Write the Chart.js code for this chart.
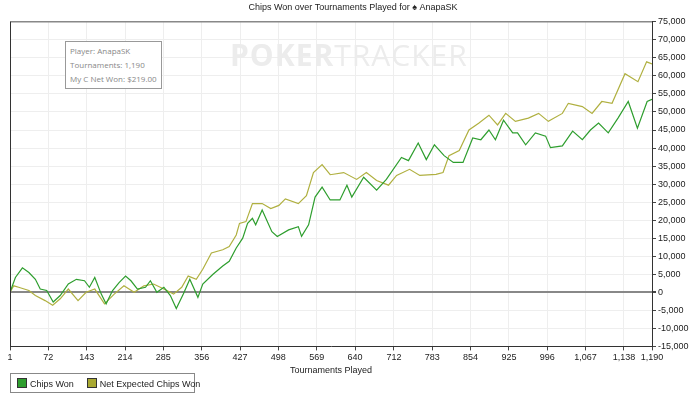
<!DOCTYPE html>
<html><head><meta charset="utf-8">
<script src="https://cdn.jsdelivr.net/npm/chart.js@4"></script>
<style>
  body{margin:0;width:700px;height:401px;background:#fff;font-family:"Liberation Sans",Arial,sans-serif;position:relative;overflow:hidden}
  #wrap{position:absolute;left:0;top:0;width:700px;height:376px}
  #info{position:absolute;left:65px;top:41px;width:97px;height:48px;border:1px solid #999;background:#fff;font:8px "Open Sans",sans-serif;color:#888;padding:2px 0 0 4px;line-height:14px;box-sizing:border-box;white-space:nowrap}
  #wm{position:absolute;left:230px;top:34px;font:bold 30px "Open Sans",sans-serif;color:#ececec;letter-spacing:1px}
  #wm span{font-weight:normal}
  #legend{position:absolute;left:10px;top:373px;width:185px;height:20px;border:1px solid #888;font-size:9px;color:#222;display:flex;align-items:center;box-sizing:border-box;padding-left:6px;white-space:nowrap}
  .sw{display:inline-block;width:8px;height:8px;border:1px solid #333;margin-right:3px;vertical-align:-1px}
</style></head>
<body>
<div id="wrap"><canvas id="c"></canvas></div>
<div id="wm">POKER<span>TRACKER</span></div>
<div id="info">Player: AnapaSK<br>Tournaments: 1,190<br>My C Net Won: $219.00</div>
<div id="legend"><span><span class="sw" style="background:#2e9e2e"></span>Chips Won</span><span style="margin-left:13px"><span class="sw" style="background:#a8a832"></span>Net Expected Chips Won</span></div>
<script>
const xTicks = [1,72,143,214,285,356,427,498,569,640,712,783,854,925,996,1067,1138,1190];

const wonT = [1,11,24,36,48,57,69,81,94,109,124,139,148,158,170,179,191,203,215,225,237,252,261,273,286,298,309,322,334,349,358,377,395,407,420,432,441,450,456,468,486,496,517,535,541,554,566,579,594,612,625,634,656,680,698,726,739,757,772,787,805,822,840,858,873,888,900,915,932,941,956,974,993,1002,1024,1043,1061,1076,1091,1109,1127,1146,1163,1181,1190];
const wonV = [0,4100,6800,5500,3600,900,500,-2700,-900,2300,3600,3200,1400,4100,-500,-3200,500,2700,4500,3200,900,1400,3200,0,1400,-900,-4500,-500,3600,-1400,2300,5000,7300,8600,12300,15000,19100,20500,18700,22800,16800,15500,17300,18200,15500,18700,26400,29150,25600,25600,29700,26400,31900,28300,31300,37400,36500,41400,36800,40900,37900,36000,36000,42800,42300,45000,42300,47700,44200,44200,40900,44200,43300,40100,40600,44700,42300,45000,46900,44200,48300,52900,45500,52900,53500];

const expT = [1,8,17,36,48,66,80,94,109,127,142,158,176,194,212,231,249,267,286,304,319,331,346,358,374,395,407,420,426,438,450,468,484,499,511,535,550,563,579,594,619,643,661,680,702,717,741,760,790,803,814,833,851,869,888,904,919,937,961,980,998,1024,1035,1061,1079,1097,1116,1140,1164,1180,1190];
const expV = [0,1800,1400,500,-900,-2300,-3600,-1800,900,-2300,0,900,-3200,-500,1800,0,1800,2300,900,-500,1400,4500,3600,6400,10900,11800,12700,15900,19100,19600,24600,24600,23200,24100,25900,24600,26800,33200,35400,32600,33200,31300,33200,31000,29700,32400,34100,32400,32700,33200,37900,39300,45000,46900,49100,46400,49600,47400,48300,49600,47400,49600,52400,51500,49600,52900,52400,60600,58400,63900,63300];

const pts = (t, v) => t.map((x, i) => ({x, y: v[i]}));

new Chart(document.getElementById('c'), {
  type: 'line',
  data: {
    datasets: [
      { label: 'Chips Won', data: pts(wonT, wonV), borderColor: '#2e9e2e', borderWidth: 1.2, pointRadius: 0, tension: 0 },
      { label: 'Net Expected Chips Won', data: pts(expT, expV), borderColor: '#b0b040', borderWidth: 1.2, pointRadius: 0, tension: 0 },
    ],
  },
  options: {
    responsive: true, maintainAspectRatio: false, animation: false,
    layout: { padding: { left: 10, right: 4, top: 0 } },
    plugins: {
      legend: { display: false }, tooltip: { enabled: false },
      title: { display: true, text: 'Chips Won over Tournaments Played for ♠ AnapaSK', color: '#222', font: { size: 9, weight: 'normal' }, padding: { top: 2, bottom: 9 } },
    },
    scales: {
      x: {
        type: 'linear', min: 1, max: 1190,
        afterBuildTicks: a => { a.ticks = xTicks.map(v => ({value: v})); },
        ticks: { color: '#222', font: { size: 9 }, maxRotation: 0, autoSkip: false, padding: 2 },
        grid: { color: '#eee', tickColor: '#444', tickLength: 4 },
        border: { color: '#333' },
        title: { display: true, text: 'Tournaments Played', color: '#222', font: { size: 9 }, padding: 0 },
      },
      y: {
        position: 'right', min: -15000, max: 75000,
        ticks: { stepSize: 5000, color: '#222', font: { size: 9 }, padding: 2, callback: v => v.toLocaleString('en-US') },
        grid: {
          color: c => c.tick && c.tick.value === 0 ? '#888' : '#eee',
          lineWidth: c => c.tick && c.tick.value === 0 ? 2 : 1,
          tickColor: '#444', tickLength: 4,
        },
        border: { color: '#333' },
        afterFit: a => { a.width = 44; },
      },
    },
  },
  plugins: [{
    id: 'frame',
    afterDraw(ch) {
      const {ctx, chartArea: a} = ch;
      ctx.save();
      ctx.strokeStyle = '#888'; ctx.lineWidth = 1.5;
      ctx.beginPath(); ctx.moveTo(a.left, a.top); ctx.lineTo(a.right, a.top); ctx.stroke();
      ctx.strokeStyle = '#333'; ctx.lineWidth = 1;
      ctx.beginPath(); ctx.moveTo(a.left + 0.5, a.top); ctx.lineTo(a.left + 0.5, a.bottom); ctx.stroke();
      ctx.restore();
    },
  }],
});
</script>
</body></html>
